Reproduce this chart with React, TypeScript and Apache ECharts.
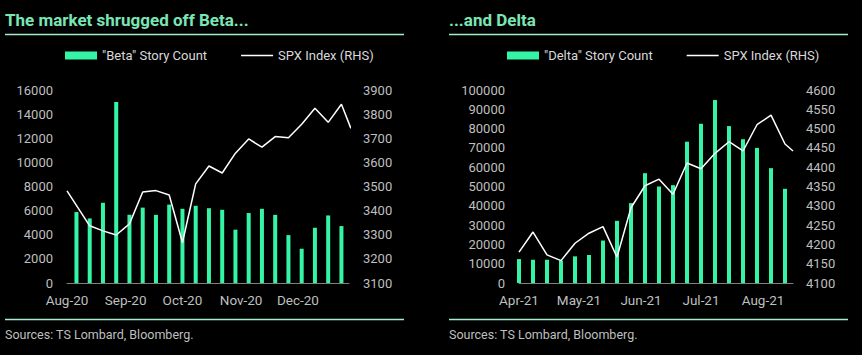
import React, { useEffect, useRef } from "react";
import * as echarts from "echarts";

// ---------- data ----------
const leftTitle = "The market shrugged off Beta...";
const rightTitle = "...and Delta";
const sourcesText = "Sources: TS Lombard, Bloomberg.";
const leftBarName = '"Beta" Story Count';
const rightBarName = '"Delta" Story Count';
const lineName = "SPX Index (RHS)";

const leftMonthDates = ["2020-08-01", "2020-09-01", "2020-10-01", "2020-11-01", "2020-12-01"];
const leftMonthLabels = ["Aug-20", "Sep-20", "Oct-20", "Nov-20", "Dec-20"];
const rightMonthDates = ["2021-04-01", "2021-05-01", "2021-06-01", "2021-07-01", "2021-08-01"];
const rightMonthLabels = ["Apr-21", "May-21", "Jun-21", "Jul-21", "Aug-21"];

const leftBarDates = [
  "2020-08-06", "2020-08-13", "2020-08-20", "2020-08-27", "2020-09-03", "2020-09-10", "2020-09-17",
  "2020-09-24", "2020-10-01", "2020-10-08", "2020-10-15", "2020-10-22", "2020-10-29", "2020-11-05",
  "2020-11-12", "2020-11-19", "2020-11-26", "2020-12-03", "2020-12-10", "2020-12-17", "2020-12-24",
];
const betaCounts = [
  5880, 5350, 6650, 15000, 5650, 6250, 5650, 6500, 6150, 6400, 6200, 6070, 4420, 5800, 6150, 5650,
  3970, 2840, 4580, 5600, 4720,
];
const leftLineDates = [
  "2020-08-01", "2020-08-13", "2020-08-20", "2020-08-27", "2020-09-03", "2020-09-10", "2020-09-17",
  "2020-09-24", "2020-10-01", "2020-10-08", "2020-10-15", "2020-10-22", "2020-10-29", "2020-11-05",
  "2020-11-12", "2020-11-19", "2020-11-26", "2020-12-03", "2020-12-10", "2020-12-17", "2020-12-24",
  "2020-12-29",
];
const leftSpx = [
  3482, 3337, 3316, 3299, 3345, 3477, 3483, 3465, 3268, 3511, 3585, 3556, 3638, 3697, 3663, 3707,
  3702, 3758, 3824, 3766, 3841, 3741,
];

const rightBarDates = [
  "2021-04-01", "2021-04-08", "2021-04-15", "2021-04-22", "2021-04-29", "2021-05-06", "2021-05-13",
  "2021-05-20", "2021-05-27", "2021-06-03", "2021-06-10", "2021-06-17", "2021-06-24", "2021-07-01",
  "2021-07-08", "2021-07-15", "2021-07-22", "2021-07-29", "2021-08-05", "2021-08-12",
];
const deltaCounts = [
  12400, 12050, 12050, 11600, 13800, 14500, 22000, 32200, 41400, 56900, 50000, 50700, 73200, 82500,
  94800, 81300, 74500, 70000, 59500, 48800,
];
const rightLineDates = [...rightBarDates, "2021-08-16"];
const rightSpx = [
  4180, 4232, 4173, 4158, 4203, 4229, 4246, 4167, 4295, 4352, 4369, 4330, 4411, 4396, 4436, 4466,
  4442, 4510, 4535, 4460, 4442,
];

// ---------- style ----------
const BG = "#000000";
const TITLE = "#79e6b5";
const SEP = "#a3efcc";
const BAR = "#34f5a6";
const LABEL = "#bfbfbf";
const LEGEND = "#d9d9d9";
const AXIS = "#808080";
const FONT = "Roboto, 'Noto Sans', sans-serif";
const LINE_ICON = "path://M0,0H30V1.5H0Z";

const ts = (d: string) => Date.parse(d + "T00:00:00Z");
const pairs = (dates: string[], vals: number[]) => dates.map((d, i) => [ts(d), vals[i]]);

function makeX(gridIndex: number, min: string, max: string, dates: string[], labels: string[]) {
  const tsv = dates.map(ts);
  return {
    type: "value",
    gridIndex,
    min: ts(min),
    max: ts(max),
    axisLine: { show: true, lineStyle: { color: AXIS, width: 1 } },
    axisTick: { show: false },
    splitLine: { show: false },
    axisLabel: {
      customValues: tsv,
      formatter: (v: number) => {
        const i = tsv.indexOf(v);
        return i >= 0 ? labels[i] : "";
      },
      color: LABEL,
      fontSize: 13.5,
      fontFamily: FONT,
      margin: 10,
    },
  };
}

function makeY(gridIndex: number, position: string, min: number, max: number, interval: number, margin: number) {
  return {
    type: "value",
    gridIndex,
    position,
    min,
    max,
    interval,
    axisLine: { show: false },
    axisTick: { show: false },
    splitLine: { show: false },
    axisLabel: {
      color: LABEL,
      fontSize: 13,
      fontFamily: FONT,
      margin,
      formatter: (v: number) => String(v),
    },
  };
}

export default function App() {
  const ref = useRef<HTMLDivElement>(null);

  useEffect(() => {
    document.body.style.margin = "0";
    document.body.style.background = BG;
    if (!ref.current) return;
    const chart = echarts.init(ref.current, null, { renderer: "svg" });

    const legendCommon = {
      top: 44,
      itemWidth: 32,
      itemHeight: 8,
      itemGap: 34,
      textStyle: { color: LEGEND, fontSize: 13, fontFamily: FONT },
    };

    chart.setOption({
      animation: false,
      backgroundColor: BG,
      grid: [
        { left: 67, top: 90, width: 282, height: 193 },
        { left: 519, top: 90, width: 274, height: 193 },
      ],
      xAxis: [
        makeX(0, "2020-08-01", "2020-12-28", leftMonthDates, leftMonthLabels),
        makeX(1, "2021-04-01", "2021-08-16", rightMonthDates, rightMonthLabels),
      ],
      yAxis: [
        makeY(0, "left", 0, 16000, 2000, 14),
        makeY(0, "right", 3100, 3900, 100, 14),
        makeY(1, "left", 0, 100000, 10000, 14),
        makeY(1, "right", 4100, 4600, 50, 13),
      ],
      legend: [
        {
          ...legendCommon,
          left: 60,
          data: [{ name: leftBarName, icon: "rect" }, { name: lineName, icon: LINE_ICON }],
        },
        {
          ...legendCommon,
          left: 502,
          data: [{ name: rightBarName, icon: "rect" }, { name: lineName, icon: LINE_ICON }],
        },
      ],
      series: [
        {
          name: leftBarName,
          type: "bar",
          xAxisIndex: 0,
          yAxisIndex: 0,
          barWidth: 4,
          clip: false,
          itemStyle: { color: BAR },
          data: pairs(leftBarDates, betaCounts),
        },
        {
          name: lineName,
          type: "line",
          xAxisIndex: 0,
          yAxisIndex: 1,
          symbol: "none",
          clip: false,
          itemStyle: { color: "#ffffff" },
          lineStyle: { color: "#ffffff", width: 1.5 },
          data: pairs(leftLineDates, leftSpx),
        },
        {
          name: rightBarName,
          type: "bar",
          xAxisIndex: 1,
          yAxisIndex: 2,
          barWidth: 4,
          clip: false,
          itemStyle: { color: BAR },
          data: pairs(rightBarDates, deltaCounts),
        },
        {
          name: lineName,
          type: "line",
          xAxisIndex: 1,
          yAxisIndex: 3,
          symbol: "none",
          clip: false,
          itemStyle: { color: "#ffffff" },
          lineStyle: { color: "#ffffff", width: 1.5 },
          data: pairs(rightLineDates, rightSpx),
        },
      ],
      graphic: [
        {
          type: "text",
          x: 5,
          y: 20,
          style: { text: leftTitle, fill: TITLE, fontSize: 17, fontWeight: "bold", fontFamily: FONT, verticalAlign: "middle" },
        },
        {
          type: "text",
          x: 449,
          y: 20,
          style: { text: rightTitle, fill: TITLE, fontSize: 17, fontWeight: "bold", fontFamily: FONT, verticalAlign: "middle" },
        },
        { type: "line", shape: { x1: 5, y1: 34.5, x2: 404, y2: 34.5 }, style: { stroke: SEP, lineWidth: 1.5 } },
        { type: "line", shape: { x1: 449, y1: 34.5, x2: 848, y2: 34.5 }, style: { stroke: SEP, lineWidth: 1.5 } },
        { type: "line", shape: { x1: 5, y1: 319.5, x2: 404, y2: 319.5 }, style: { stroke: SEP, lineWidth: 1.5 } },
        { type: "line", shape: { x1: 449, y1: 319.5, x2: 848, y2: 319.5 }, style: { stroke: SEP, lineWidth: 1.5 } },
        {
          type: "text",
          x: 5,
          y: 334,
          style: { text: sourcesText, fill: LABEL, fontSize: 12.5, fontFamily: FONT, verticalAlign: "middle" },
        },
        {
          type: "text",
          x: 449,
          y: 334,
          style: { text: sourcesText, fill: LABEL, fontSize: 12.5, fontFamily: FONT, verticalAlign: "middle" },
        },
      ],
    });

    return () => chart.dispose();
  }, []);

  return <div ref={ref} style={{ width: 862, height: 355, background: BG }} />;
}
